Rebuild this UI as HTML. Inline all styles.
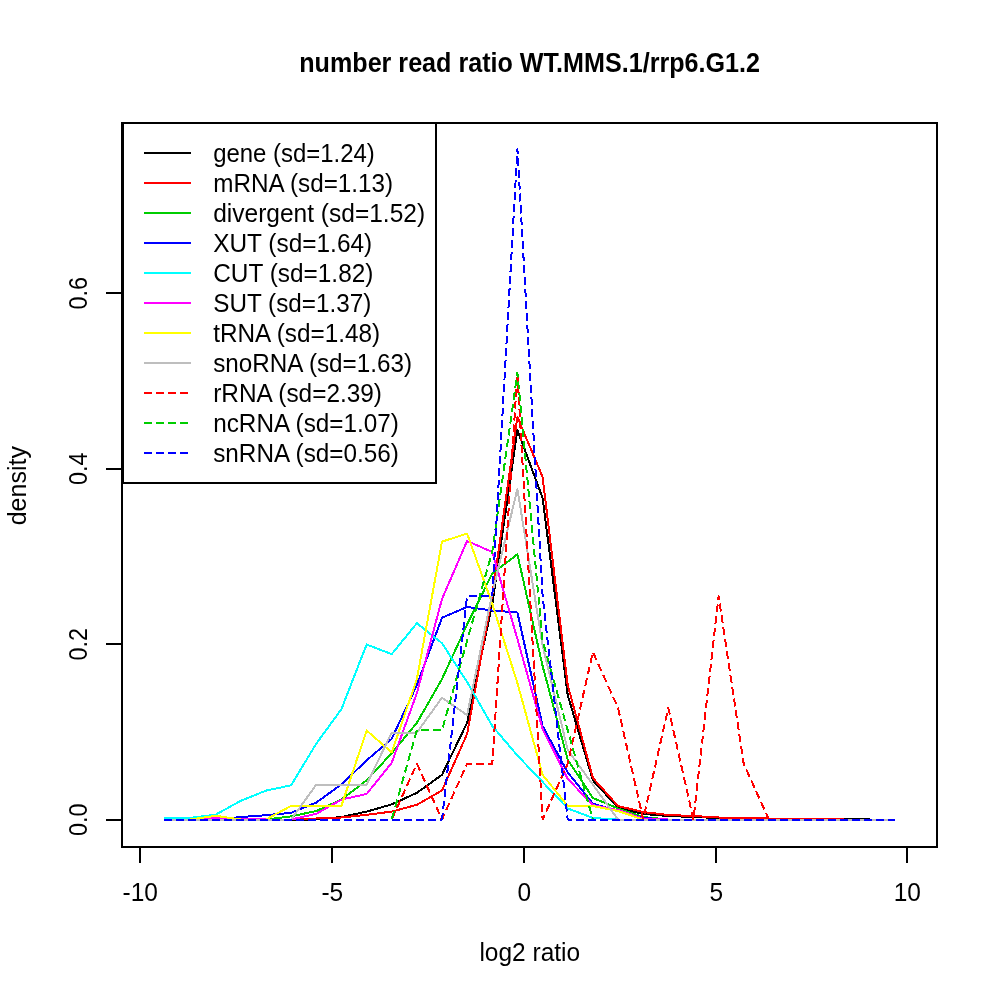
<!DOCTYPE html>
<html lang="en"><head><meta charset="utf-8"><title>number read ratio WT.MMS.1/rrp6.G1.2</title>
<style>
html,body{margin:0;padding:0;background:#fff;}
svg{display:block;}
text{font-family:"Liberation Sans",sans-serif;fill:#000;}
.t{font-size:24.5px;}
</style></head><body>
<svg width="1000" height="1000" viewBox="0 0 1000 1000">
<rect x="0" y="0" width="1000" height="1000" fill="#ffffff"/>

<g fill="none" stroke-width="2" stroke-linejoin="round" stroke-linecap="butt" shape-rendering="crispEdges">
<polyline points="164.4,819.5 165.4,819.5 190.5,819.5 215.7,819.5 240.8,819.5 266.0,819.5 291.1,819.5 316.3,819.5 341.4,817.0 366.6,811.6 391.7,804.4 416.9,792.8 442.0,774.8 467.1,722.8 492.3,604.0 517.4,430.0 542.6,498.0 567.7,695.0 592.9,780.4 618.0,807.6 643.2,814.0 668.3,816.0 693.4,817.0 718.6,818.0 743.7,818.5 768.9,818.5 794.0,818.5 819.2,818.5 844.3,819.0 869.5,819.5 894.6,819.5" stroke="#000000"/>
<polyline points="164.4,819.5 165.4,819.5 190.5,819.5 215.7,819.5 240.8,819.5 266.0,819.5 291.1,819.5 316.3,818.5 341.4,817.5 366.6,814.8 391.7,811.6 416.9,804.8 442.0,790.5 467.1,734.0 492.3,595.0 517.4,417.0 542.6,477.0 567.7,685.0 592.9,778.0 618.0,806.0 643.2,812.0 668.3,815.0 693.4,816.0 718.6,817.5 743.7,818.0 768.9,818.5 794.0,818.5 819.2,818.5 844.3,819.5 869.5,819.5 894.6,819.5" stroke="#ff0000"/>
<polyline points="164.4,819.5 165.4,819.5 190.5,819.5 215.7,819.5 240.8,819.5 266.0,819.5 291.1,816.4 316.3,811.0 341.4,799.6 366.6,780.4 391.7,753.2 416.9,722.8 442.0,679.0 467.1,624.5 492.3,573.5 517.4,554.3 542.6,666.0 567.7,759.6 592.9,798.0 618.0,808.4 643.2,817.0 668.3,819.5 693.4,819.5 718.6,819.5 743.7,819.5 768.9,819.5 794.0,819.5 819.2,819.5 844.3,819.5 869.5,819.5 894.6,819.5" stroke="#00cd00"/>
<polyline points="164.4,819.5 165.4,819.5 190.5,819.5 215.7,819.5 240.8,817.0 266.0,815.2 291.1,812.8 316.3,802.6 341.4,784.4 366.6,760.4 391.7,738.8 416.9,685.0 442.0,617.8 467.1,606.9 492.3,610.5 517.4,612.5 542.6,726.0 567.7,772.4 592.9,803.6 618.0,811.0 643.2,818.0 668.3,819.5 693.4,819.5 718.6,819.5 743.7,819.5 768.9,819.5 794.0,819.5 819.2,819.5 844.3,819.5 869.5,819.5 894.6,819.5" stroke="#0000ff"/>
<polyline points="164.4,817.9 165.4,817.9 190.5,817.9 215.7,814.6 240.8,800.8 266.0,790.6 291.1,785.3 316.3,743.6 341.4,709.2 366.6,644.5 391.7,654.1 416.9,623.2 442.0,643.2 467.1,682.0 492.3,726.0 517.4,755.5 542.6,782.0 567.7,808.4 592.9,818.0 618.0,819.5 643.2,819.5 668.3,819.5 693.4,819.5 718.6,819.5 743.7,819.5 768.9,819.5 794.0,819.5 819.2,819.5 844.3,819.5 869.5,819.5 894.6,819.5" stroke="#00ffff"/>
<polyline points="164.4,819.5 165.4,819.5 190.5,819.5 215.7,818.0 240.8,819.3 266.0,819.5 291.1,819.5 316.3,813.8 341.4,799.6 366.6,794.0 391.7,762.8 416.9,693.0 442.0,599.0 467.1,541.0 492.3,552.0 517.4,639.0 542.6,729.0 567.7,778.8 592.9,805.2 618.0,810.0 643.2,818.5 668.3,819.5 693.4,819.5 718.6,819.5 743.7,819.5 768.9,819.5 794.0,819.5 819.2,819.5 844.3,819.5 869.5,819.5 894.6,819.5" stroke="#ff00ff"/>
<polyline points="164.4,819.5 165.4,819.5 190.5,819.5 215.7,815.8 240.8,819.5 266.0,819.5 291.1,805.9 316.3,805.9 341.4,805.9 366.6,730.5 391.7,752.4 416.9,679.0 442.0,541.6 467.1,533.6 492.3,604.0 517.4,683.0 542.6,774.8 567.7,806.0 592.9,806.0 618.0,811.0 643.2,819.5 668.3,819.5 693.4,819.5 718.6,819.5 743.7,819.5 768.9,819.5 794.0,819.5 819.2,819.5 844.3,819.5 869.5,819.5 894.6,819.5" stroke="#ffff00"/>
<polyline points="164.4,819.5 165.4,819.5 190.5,819.5 215.7,819.5 240.8,819.5 266.0,819.5 291.1,819.5 316.3,784.7 341.4,784.7 366.6,784.7 391.7,732.5 416.9,732.5 442.0,697.7 467.1,715.1 492.3,593.3 517.4,488.9 542.6,645.5 567.7,749.9 592.9,784.7 618.0,819.5 643.2,819.5 668.3,819.5 693.4,819.5 718.6,819.5 743.7,819.5 768.9,819.5 794.0,819.5 819.2,819.5 844.3,819.5 869.5,819.5 894.6,819.5" stroke="#bebebe"/>
<polyline points="164.4,819.5 165.4,819.5 190.5,819.5 215.7,819.5 240.8,819.5 266.0,819.5 291.1,819.5 316.3,819.5 341.4,819.5 366.6,819.5 391.7,819.5 416.9,763.7 442.0,819.5 467.1,763.7 492.3,763.7 517.4,372.8 542.6,819.5 567.7,763.7 592.9,652.0 618.0,707.8 643.2,819.5 668.3,707.8 693.4,819.5 718.6,596.1 743.7,763.7 768.9,819.5" stroke="#ff0000" stroke-dasharray="8 4"/>
<polyline points="164.4,819.5 165.4,819.5 190.5,819.5 215.7,819.5 240.8,819.5 266.0,819.5 291.1,819.5 316.3,819.5 341.4,819.5 366.6,819.5 391.7,819.5 416.9,730.2 442.0,730.2 467.1,640.8 492.3,551.5 517.4,372.8 542.6,640.8 567.7,730.2 592.9,819.5" stroke="#00cd00" stroke-dasharray="8 4"/>
<polyline points="164.4,819.5 165.4,819.5 190.5,819.5 215.7,819.5 240.8,819.5 266.0,819.5 291.1,819.5 316.3,819.5 341.4,819.5 366.6,819.5 391.7,819.5 416.9,819.5 442.0,819.5 467.1,596.0 492.3,596.0 517.4,149.0 542.6,596.0 567.7,819.5 592.9,819.5 618.0,819.5 643.2,819.5 668.3,819.5 693.4,819.5 718.6,819.5 743.7,819.5 768.9,819.5 794.0,819.5 819.2,819.5 844.3,819.5 869.5,819.5 894.6,819.5" stroke="#0000ff" stroke-dasharray="8 4"/>
</g>
<g stroke="#000" stroke-width="2" fill="none" shape-rendering="crispEdges">
<rect x="122.3" y="122.6" width="814.7" height="724.1"/>
<line x1="140" y1="846.7" x2="907" y2="846.7"/>
<line x1="140" y1="846.7" x2="140" y2="863"/>
<line x1="332" y1="846.7" x2="332" y2="863"/>
<line x1="524" y1="846.7" x2="524" y2="863"/>
<line x1="716" y1="846.7" x2="716" y2="863"/>
<line x1="907" y1="846.7" x2="907" y2="863"/>
<line x1="122.3" y1="819.5" x2="106.3" y2="819.5"/>
<line x1="122.3" y1="644" x2="106.3" y2="644"/>
<line x1="122.3" y1="468.5" x2="106.3" y2="468.5"/>
<line x1="122.3" y1="293" x2="106.3" y2="293"/>
</g>
<text class="t" transform="translate(140.3,900.8) scale(1,1.075)" text-anchor="middle">-10</text>
<text class="t" transform="translate(332.3,900.8) scale(1,1.075)" text-anchor="middle">-5</text>
<text class="t" transform="translate(524.3,900.8) scale(1,1.075)" text-anchor="middle">0</text>
<text class="t" transform="translate(716.3,900.8) scale(1,1.075)" text-anchor="middle">5</text>
<text class="t" transform="translate(907.3,900.8) scale(1,1.075)" text-anchor="middle">10</text>
<text class="t" transform="translate(87.4,819.8) rotate(-90) scale(1,1.075)" text-anchor="middle" textLength="32.6" lengthAdjust="spacingAndGlyphs">0.0</text>
<text class="t" transform="translate(87.4,644.3) rotate(-90) scale(1,1.075)" text-anchor="middle" textLength="32.6" lengthAdjust="spacingAndGlyphs">0.2</text>
<text class="t" transform="translate(87.4,468.8) rotate(-90) scale(1,1.075)" text-anchor="middle" textLength="32.6" lengthAdjust="spacingAndGlyphs">0.4</text>
<text class="t" transform="translate(87.4,293.3) rotate(-90) scale(1,1.075)" text-anchor="middle" textLength="32.6" lengthAdjust="spacingAndGlyphs">0.6</text>
<text class="t" transform="translate(529.8,960.6) scale(1,1.075)" text-anchor="middle">log2 ratio</text>
<text class="t" transform="translate(26.2,485.7) rotate(-90) scale(1,1.075)" text-anchor="middle" textLength="79.2" lengthAdjust="spacingAndGlyphs">density</text>
<text transform="translate(529.6,71.8) scale(1,1.07)" text-anchor="middle" textLength="460.7" lengthAdjust="spacingAndGlyphs" style="font-size:25px;font-weight:bold">number read ratio WT.MMS.1/rrp6.G1.2</text>
<rect x="122.89999999999999" y="122.8" width="312.7" height="359.9" fill="#fff" stroke="#000" stroke-width="2" shape-rendering="crispEdges"/>
<g stroke-width="2" shape-rendering="crispEdges">
<line x1="144" y1="153" x2="191" y2="153" stroke="#000000"/>
<line x1="144" y1="183" x2="191" y2="183" stroke="#ff0000"/>
<line x1="144" y1="213" x2="191" y2="213" stroke="#00cd00"/>
<line x1="144" y1="243" x2="191" y2="243" stroke="#0000ff"/>
<line x1="144" y1="273" x2="191" y2="273" stroke="#00ffff"/>
<line x1="144" y1="303" x2="191" y2="303" stroke="#ff00ff"/>
<line x1="144" y1="333" x2="191" y2="333" stroke="#ffff00"/>
<line x1="144" y1="363" x2="191" y2="363" stroke="#bebebe"/>
<line x1="144" y1="393" x2="191" y2="393" stroke="#ff0000" stroke-dasharray="8 4"/>
<line x1="144" y1="423" x2="191" y2="423" stroke="#00cd00" stroke-dasharray="8 4"/>
<line x1="144" y1="453" x2="191" y2="453" stroke="#0000ff" stroke-dasharray="8 4"/>
</g>
<text class="t" transform="translate(213.2,161.8) scale(1,1.075)" textLength="161.6" lengthAdjust="spacingAndGlyphs">gene (sd=1.24)</text>
<text class="t" transform="translate(213.2,191.8) scale(1,1.075)" textLength="179.9" lengthAdjust="spacingAndGlyphs">mRNA (sd=1.13)</text>
<text class="t" transform="translate(213.2,221.8) scale(1,1.075)" textLength="211.9" lengthAdjust="spacingAndGlyphs">divergent (sd=1.52)</text>
<text class="t" transform="translate(213.2,251.8) scale(1,1.075)" textLength="159.0" lengthAdjust="spacingAndGlyphs">XUT (sd=1.64)</text>
<text class="t" transform="translate(213.2,281.8) scale(1,1.075)" textLength="160.2" lengthAdjust="spacingAndGlyphs">CUT (sd=1.82)</text>
<text class="t" transform="translate(213.2,311.8) scale(1,1.075)" textLength="158.1" lengthAdjust="spacingAndGlyphs">SUT (sd=1.37)</text>
<text class="t" transform="translate(213.2,341.8) scale(1,1.075)" textLength="167.0" lengthAdjust="spacingAndGlyphs">tRNA (sd=1.48)</text>
<text class="t" transform="translate(213.2,371.8) scale(1,1.075)" textLength="198.8" lengthAdjust="spacingAndGlyphs">snoRNA (sd=1.63)</text>
<text class="t" transform="translate(213.2,401.8) scale(1,1.075)" textLength="168.8" lengthAdjust="spacingAndGlyphs">rRNA (sd=2.39)</text>
<text class="t" transform="translate(213.2,431.8) scale(1,1.075)" textLength="185.7" lengthAdjust="spacingAndGlyphs">ncRNA (sd=1.07)</text>
<text class="t" transform="translate(213.2,461.8) scale(1,1.075)" textLength="185.7" lengthAdjust="spacingAndGlyphs">snRNA (sd=0.56)</text>
</svg></body></html>
